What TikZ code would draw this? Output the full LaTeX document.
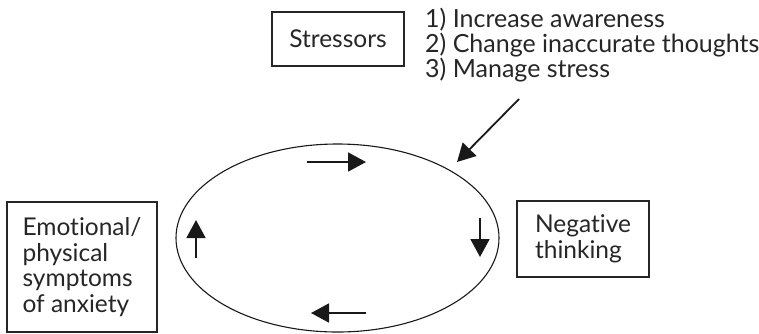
\documentclass[tikz,border=0pt]{standalone}
\usepackage{fontspec}
\setmainfont{Lato}[Ligatures=NoCommon]
\usetikzlibrary{arrows.meta,shapes.geometric}
\tikzset{
  box/.style={draw=black!85, line width=1.3pt, align=left, inner sep=0pt,
    font=\fontsize{24.5}{25.7}\selectfont, text=black!85},
  flow/.style={line width=1.8pt, draw=black!90,
    -{Triangle[length=18pt,width=19pt]}},
  listtext/.style={align=left, inner sep=0pt, anchor=north west,
    font=\fontsize{25}{25}\selectfont, text=black!85}
}
\begin{document}
\begin{tikzpicture}[x=1pt,y=-1pt]
\useasboundingbox (0,0) rectangle (759,333);
% boxes
\node[box, minimum width=132pt, minimum height=54pt] (stress) at (338,39) {Stressors};
\node[box, minimum width=150pt, minimum height=130pt] (emo) at (82,267)
  {Emotional/\\physical\\symptoms\\of anxiety};
\node[box, minimum width=132pt, minimum height=76pt] (neg) at (583,239)
  {Negative\\thinking};
\node[listtext] (list) at (425,8)
  {1) Increase awareness\\2) Change inaccurate thoughts\\3) Manage stress};
% cycle
\node[draw=black!90, line width=1.1pt, ellipse, inner sep=0pt,
  minimum width=323pt, minimum height=188pt] (cycle) at (337.5,238) {};
% cycle arrows
\coordinate (t1) at (307,162); \coordinate (t2) at (366,162);
\coordinate (r1) at (480,218); \coordinate (r2) at (480,257);
\coordinate (b1) at (366,313); \coordinate (b2) at (311,313);
\coordinate (l1) at (196,258); \coordinate (l2) at (196,220);
\draw[flow] (t1) -- (t2);
\draw[flow] (r1) -- (r2);
\draw[flow] (b1) -- (b2);
\draw[flow] (l1) -- (l2);
% intervention arrow
\coordinate (d1) at (519,99); \coordinate (d2) at (457,162);
\draw[flow] (d1) -- (d2);
\end{tikzpicture}
\end{document}
